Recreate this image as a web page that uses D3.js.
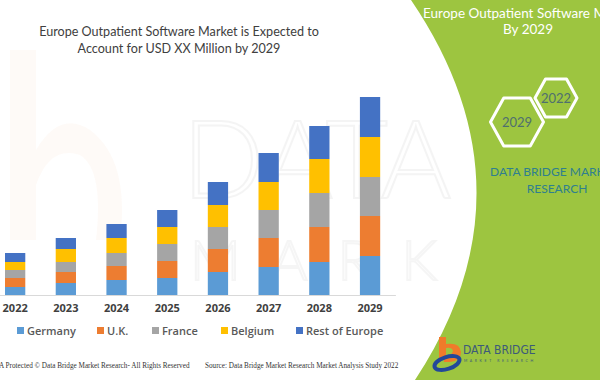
<!DOCTYPE html>
<html>
<head>
<meta charset="utf-8">
<script src="https://cdn.jsdelivr.net/npm/d3@7"></script>
<style>
  html, body { margin: 0; padding: 0; background: #fff; }
  svg { display: block; }
  text { font-family: Lato, "Open Sans", "Noto Sans", sans-serif; }
</style>
</head>
<body>
<svg id="chart" width="600" height="380"></svg>
<script>
// ---- data ----
const years = ["2022", "2023", "2024", "2025", "2026", "2027", "2028", "2029"];
const seriesNames = ["Germany", "U.K.", "France", "Belgium", "Rest of Europe"];
const germany = [8, 12, 15, 17, 23, 28, 33, 39];
const uk      = [9, 11, 14, 17, 23, 29, 35, 40];
const france  = [8, 10, 13, 17, 22, 28, 34, 39];
const belgium = [8, 13, 15, 17, 22, 28, 34, 40];
const restOfEurope = [9, 11, 14, 17, 23, 29, 33, 40];
const seriesColors = ["#5b9bd5", "#ed7d31", "#a5a5a5", "#ffc000", "#4472c4"];
const titleLines = ["Europe Outpatient Software Market is Expected to", "Account for USD XX Million by 2029"];
const panelTitle = ["Europe Outpatient Software Market", "By 2029"];

const svg = d3.select("#chart");

// ---- faint watermark (under the green panel) ----
const wm = svg.append("g");
wm.append("path")
  .attr("d", "M10,50 L36,50 L36,150 Q60,110 90,130 Q130,160 120,240 L96,240 Q104,170 80,155 Q50,145 36,185 L36,240 L10,240 Z")
  .attr("fill", "#f08a3c").attr("opacity", 0.045);
wm.append("text").attr("x", 182).attr("y", 198)
  .attr("font-size", 108).attr("font-weight", 300).attr("fill", "none")
  .attr("stroke", "#555").attr("stroke-width", 2).attr("opacity", 0.06)
  .text("DATA BRIDGE");
wm.append("text").attr("x", 190).attr("y", 280)
  .attr("font-size", 56).attr("font-weight", 300).attr("fill", "none")
  .attr("stroke", "#555").attr("stroke-width", 2).attr("letter-spacing", 30).attr("opacity", 0.05)
  .text("MARKET");

// ---- right green panel ----
svg.append("path")
  .attr("d", "M411,0 Q540,190 415,380 L600,380 L600,0 Z")
  .attr("fill", "#9dc540");

// ---- title ----
svg.append("g").selectAll("text").data(titleLines).join("text")
  .attr("x", 179).attr("y", (d, i) => 36 + i * 16.5)
  .attr("text-anchor", "middle").attr("font-size", 12.6)
  .attr("fill", "#404040").text(d => d);

// ---- scales ----
const x = d3.scaleBand().domain(years).range([-10.2, 395.4])
  .paddingInner(0.6).paddingOuter(0.3);
const y = d3.scaleLinear().domain([0, 200]).range([295, 95]);
const color = d3.scaleOrdinal().domain(seriesNames).range(seriesColors);

const table = years.map((yr, i) => ({
  year: yr,
  "Germany": germany[i], "U.K.": uk[i], "France": france[i],
  "Belgium": belgium[i], "Rest of Europe": restOfEurope[i]
}));
const stacked = d3.stack().keys(seriesNames)(table);

// ---- bars ----
svg.append("g").selectAll("g").data(stacked).join("g")
  .attr("fill", d => color(d.key))
  .selectAll("rect").data(d => d).join("rect")
  .attr("x", d => x(d.data.year))
  .attr("width", x.bandwidth())
  .attr("y", d => y(d[1]))
  .attr("height", d => y(d[0]) - y(d[1]));

// ---- x axis ----
const xAxis = svg.append("g").attr("transform", "translate(0,295)")
  .call(d3.axisBottom(x).tickSize(0).tickPadding(9));
xAxis.select(".domain").attr("stroke", "#d9d9d9");
xAxis.selectAll("text")
  .attr("font-size", 11).attr("font-weight", 700)
  .attr("fill", "#404040")
  .style("font-family", '"Open Sans", Lato, sans-serif');

// ---- legend ----
const legendX = [17, 97, 152, 221, 296];
const legend = svg.append("g").selectAll("g").data(seriesNames).join("g")
  .attr("transform", (d, i) => `translate(${legendX[i]},331)`);
legend.append("rect").attr("x", 0).attr("y", -4).attr("width", 7).attr("height", 7)
  .attr("fill", d => color(d));
legend.append("text").attr("x", 10).attr("y", 4)
  .attr("font-size", 11).attr("font-weight", 600).attr("fill", "#595959")
  .style("font-family", '"Open Sans", Lato, sans-serif')
  .text(d => d);

// ---- footer ----
svg.append("text").attr("x", -1).attr("y", 368)
  .attr("font-size", 7.2).attr("fill", "#333")
  .style("font-family", '"Liberation Serif", "DejaVu Serif", serif')
  .text("A Protected © Data Bridge Market Research- All Rights Reserved");
svg.append("text").attr("x", 205).attr("y", 368)
  .attr("font-size", 7.2).attr("fill", "#333")
  .style("font-family", '"Liberation Serif", "DejaVu Serif", serif')
  .text("Source: Data Bridge Market Research Market Analysis Study 2022");

// ---- panel texts ----
svg.append("text").attr("x", 423).attr("y", 18)
  .attr("font-size", 13.5).attr("fill", "#ffffff").text(panelTitle[0]);
svg.append("text").attr("x", 528).attr("y", 34)
  .attr("text-anchor", "middle").attr("font-size", 13.5)
  .attr("fill", "#ffffff").text(panelTitle[1]);

function hexPath(cx, cy, w, h) {
  const q = w / 4;
  return `M${cx - w/2},${cy} L${cx - q},${cy - h/2} L${cx + q},${cy - h/2} L${cx + w/2},${cy} L${cx + q},${cy + h/2} L${cx - q},${cy + h/2} Z`;
}
const hexes = [
  { label: "2022", cx: 556, cy: 98, w: 42, h: 38 },
  { label: "2029", cx: 517, cy: 122, w: 53, h: 48 }
];
const hg = svg.append("g").selectAll("g").data(hexes).join("g");
hg.append("path").attr("d", d => hexPath(d.cx, d.cy, d.w, d.h))
  .attr("fill", "none").attr("stroke", "#ffffff").attr("stroke-width", 3)
  .attr("stroke-linejoin", "round");
hg.append("text").attr("x", d => d.cx).attr("y", d => d.cy + 5)
  .attr("text-anchor", "middle").attr("font-size", 13)
  .attr("fill", "#4f6f6e").text(d => d.label);

svg.append("text").attr("x", 490).attr("y", 176)
  .attr("font-size", 12)
  .attr("fill", "#2f7f8f").text("DATA BRIDGE MARKET");
svg.append("text").attr("x", 557).attr("y", 193)
  .attr("text-anchor", "middle").attr("font-size", 12)
  .attr("fill", "#2f7f8f").text("RESEARCH");

// ---- logo ----
const logo = svg.append("g");
logo.append("path")
  .attr("d", "M439,337 L446,337 L446,344 Q460,342 461,352 Q461,361 450,362 L444,362 L444,356 Q452,356 453,351 Q452,347 446,348 L446,358 L439,358 Z")
  .attr("fill", "#f07b2a");
logo.append("ellipse").attr("cx", 447).attr("cy", 363).attr("rx", 13).attr("ry", 6)
  .attr("fill", "none").attr("stroke", "#22489a").attr("stroke-width", 4)
  .attr("transform", "rotate(-18 447 363)");
logo.append("text").attr("x", 463).attr("y", 354)
  .attr("font-size", 12).attr("fill", "#3c5a7a")
  .style("font-family", '"Liberation Sans Narrow", "DejaVu Sans Condensed", sans-serif')
  .text("DATA BRIDGE");
logo.append("text").attr("x", 464).attr("y", 362)
  .attr("font-size", 3.5).attr("fill", "#3c5a7a").attr("letter-spacing", 2.6)
  .text("MARKET RESEARCH");
</script>
</body>
</html>
